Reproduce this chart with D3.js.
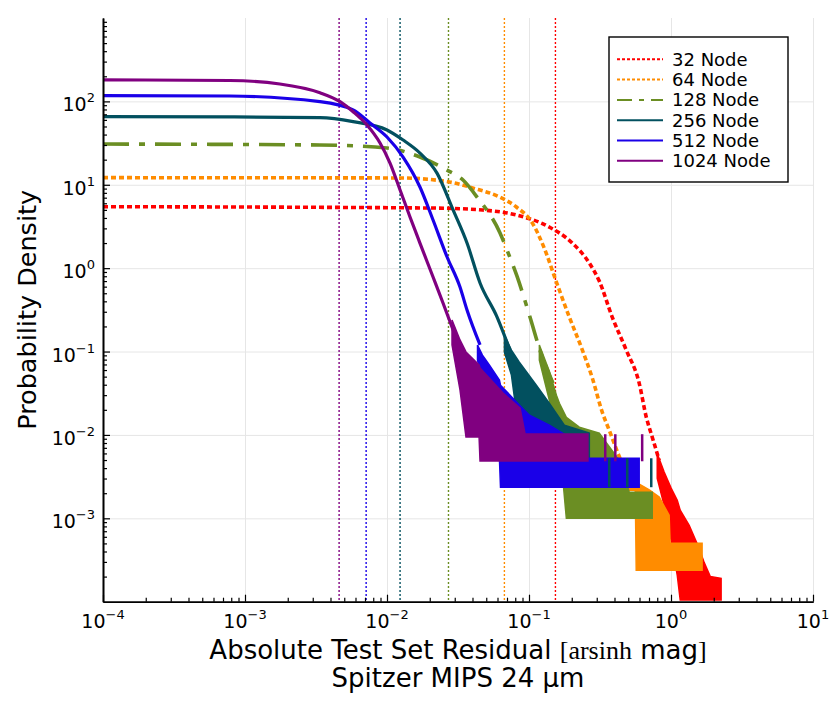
<!DOCTYPE html>
<html>
<head>
<meta charset="utf-8">
<script src="https://cdn.jsdelivr.net/npm/d3@7"></script>
<style>
body { margin: 0; background: #fff; }
text { font-family: "DejaVu Sans", sans-serif; }
</style>
</head>
<body>
<script>
// valeurs
var seriesNames = ["32 Node", "64 Node", "128 Node", "256 Node", "512 Node", "1024 Node"];
var medianResidual = [0.1535, 0.0671, 0.0271, 0.01236, 0.00713, 0.0046];

// partie lisse : [résidu, densité]
var curve32 = [[1e-4,5.46],[0.0209,5.26],[0.047,4.98],[0.0815,4.34],[0.139,3.11],[0.2018,2.0],[0.266,1.15],[0.3126,0.70],[0.3855,0.259],[0.4842,0.104],[0.597,0.0418],[0.670,0.0163],[0.738,0.0094],[0.826,0.00497]];
var curve64 = [[1e-4,12.17],[0.01227,12.07],[0.02754,10.8],[0.04,9.16],[0.0619,7.14],[0.0815,5.41],[0.1057,3.47],[0.128,1.74],[0.156,0.68],[0.1923,0.259],[0.2377,0.104],[0.2793,0.048],[0.328,0.01875],[0.3672,0.0114],[0.454,0.00457],[0.5248,0.00302]];
var curve128 = [[1e-4,30.8],[0.00337,30.0],[0.01,27.6],[0.01706,21.5],[0.0265,15.0],[0.0343,11.4],[0.043,7.14],[0.0625,2.64],[0.07,1.65],[0.0822,0.806],[0.1016,0.259],[0.1194,0.104],[0.1476,0.0418]];
var curve256 = [[1e-4,65.6],[7.8e-4,65.1],[0.00337,63.8],[0.00577,57.1],[0.01,45.4],[0.01298,34.4],[0.01706,24.0],[0.0225,13.8],[0.0292,4.99],[0.0366,2.0],[0.0452,0.664],[0.0596,0.259],[0.0734,0.104]];
var curve512 = [[1e-4,117],[7.8e-4,116],[0.00337,99.2],[0.00577,78.9],[0.00759,55.1],[0.01,37.4],[0.01298,21.5],[0.01706,9.4],[0.0211,3.78],[0.0265,1.36],[0.03266,0.594],[0.0366,0.315],[0.0452,0.12]];
var curve1024 = [[1e-4,181],[7.83e-4,178],[0.00176,161.7],[0.00337,127],[0.00467,99.2],[0.00577,75.1],[0.00723,52.1],[0.00893,31.7],[0.0105,18.2],[0.01236,8.67],[0.01452,4.11],[0.01706,2.0],[0.0211,0.783],[0.0248,0.382],[0.0301,0.158]];

// queue bruitée : [résidu, densité haute, densité basse]
var band32 = [[0.80,0.0060,0.0030],[0.895,0.0036,0.00143],[1.002,0.0023,5.44e-4],[1.107,0.00164,2.07e-4],[1.161,0.00125,1.05e-4],[1.343,8.24e-4,1.05e-4],[1.578,4.37e-4,1.05e-4],[1.711,2.96e-4,1.05e-4],[1.888,2.01e-4,1.05e-4],[2.254,1.905e-4,1.05e-4]];
var band64 = [[0.469,0.0047,0.00217],[0.56,0.0030,0.00217],[0.569,0.0027,2.38e-4],[0.703,0.0022,2.38e-4],[0.826,0.0018,2.38e-4],[0.970,0.00109,2.38e-4],[0.986,5.01e-4,2.38e-4],[1.656,5.01e-4,2.38e-4]];
var band128 = [[0.1183,0.1194,0.0789],[0.139,0.058,0.0261],[0.156,0.030,0.0105],[0.1637,0.024,0.0086],[0.1832,0.0163,0.001],[0.226,0.0124,0.001],[0.3126,0.0105,0.001],[0.4325,0.00497,0.001],[0.508,0.00205,0.001],[0.738,0.00205,0.001]];
var band256 = [[0.0671,0.1574,0.0984],[0.0752,0.104,0.0521],[0.0855,0.0746,0.0102],[0.1127,0.0395,0.00483],[0.139,0.024,0.00236],[0.1774,0.0131,0.00236],[0.266,0.0105,0.00236]];
var band512 = [[0.0434,0.1194,0.0789],[0.047,0.0906,0.0454],[0.0527,0.0687,0.0261],[0.0619,0.0454,0.00525],[0.063,0.0395,0.00236],[0.0855,0.0228,0.00236],[0.1007,0.01726,0.00236],[0.139,0.0131,0.00236],[0.1774,0.0102,0.00236],[0.2084,0.00525,0.00236],[0.597,0.00525,0.00236]];
var band1024 = [[0.0287,0.2393,0.12],[0.03266,0.1377,0.0346],[0.036,0.0989,0.00946],[0.0445,0.069,0.00946],[0.0452,0.0635,0.00488],[0.0656,0.0318,0.00488],[0.0865,0.021,0.00488],[0.0938,0.01026,0.00488],[0.26,0.01026,0.00488]];

// pics isolés : [résidu, haut, bas]
var spikes256 = [[0.3672,0.00525,0.00236],[0.492,0.00525,0.00236],[0.726,0.00525,0.00236]];
var spikes1024 = [[0.3443,0.0102,0.00483],[0.4053,0.0102,0.00483],[0.6266,0.0102,0.00483]];

var xTicks = [1e-4, 1e-3, 1e-2, 1e-1, 1, 10];
var xTickExp = ["\u22124", "\u22123", "\u22122", "\u22121", "0", "1"];
var yTicks = [1e-3, 1e-2, 1e-1, 1, 10, 100];
var yTickExp = ["\u22123", "\u22122", "\u22121", "0", "1", "2"];

var curves = [curve32, curve64, curve128, curve256, curve512, curve1024];
var bands = [band32, band64, band128, band256, band512, band1024];
var spikes = [[], [], [], spikes256, [], spikes1024];

// styles
var colors = ["#ff0000", "#ff8c00", "#6b8e23", "#02505f", "#1a00e8", "#800080"];
var dashes = ["5,3", "5,3", "26,10,6,10", null, null, null];
var legendDashes = ["3,2", "3,2", "15,7,5,7", null, null, null];

var width = 830, height = 712;
var plotLeft = 103, plotRight = 813, plotTop = 18, plotBottom = 601.7;

var svg = d3.select("body").append("svg")
    .attr("width", width)
    .attr("height", height);

var x = d3.scaleLog().domain([1e-4, 10]).range([plotLeft, plotRight]);
var y = d3.scaleLog().domain([1e-4, 1e3]).range([plotBottom, plotTop]);

svg.append("defs").append("clipPath").attr("id", "plot")
    .append("rect")
    .attr("x", plotLeft).attr("y", plotTop)
    .attr("width", plotRight - plotLeft).attr("height", plotBottom - plotTop);

// minor ticks
var minorX = [], minorY = [];
d3.range(-4, 1).forEach(function(e) {
    d3.range(2, 10).forEach(function(m) { minorX.push(m * Math.pow(10, e)); });
});
d3.range(-4, 3).forEach(function(e) {
    d3.range(2, 10).forEach(function(m) { minorY.push(m * Math.pow(10, e)); });
});

// grid
svg.append("g")
    .attr("transform", "translate(0," + plotBottom + ")")
    .call(d3.axisBottom(x).tickValues(xTicks).tickSize(-(plotBottom - plotTop)).tickFormat(""))
    .call(function(g) { g.select(".domain").remove(); g.selectAll("line").attr("stroke", "#e6e6e6"); });

svg.append("g")
    .attr("transform", "translate(" + plotLeft + ",0)")
    .call(d3.axisLeft(y).tickValues(yTicks).tickSize(-(plotRight - plotLeft)).tickFormat(""))
    .call(function(g) { g.select(".domain").remove(); g.selectAll("line").attr("stroke", "#e6e6e6"); });

var plot = svg.append("g").attr("clip-path", "url(#plot)");

// vertical reference lines
plot.selectAll(".vline")
    .data(medianResidual)
    .enter().append("line")
    .attr("class", "vline")
    .attr("x1", function(d) { return x(d); })
    .attr("x2", function(d) { return x(d); })
    .attr("y1", plotTop).attr("y2", plotBottom)
    .attr("stroke", function(d, i) { return colors[i]; })
    .attr("stroke-width", 1.4)
    .attr("stroke-dasharray", "2,2");

var line = d3.line()
    .x(function(d) { return x(d[0]); })
    .y(function(d) { return y(d[1]); })
    .curve(d3.curveMonotoneX);

var area = d3.area()
    .x(function(d) { return x(d[0]); })
    .y0(function(d) { return y(d[2]); })
    .y1(function(d) { return y(d[1]); });

curves.forEach(function(c, i) {
    var g = plot.append("g").attr("class", "series");
    g.append("path")
        .datum(bands[i])
        .attr("d", area)
        .attr("fill", colors[i])
        .attr("stroke", colors[i])
        .attr("stroke-width", 1.5);
    g.append("path")
        .datum(c)
        .attr("d", line)
        .attr("fill", "none")
        .attr("stroke", colors[i])
        .attr("stroke-width", dashes[i] ? 3.6 : 3.2)
        .attr("stroke-dasharray", dashes[i]);
});

spikes.forEach(function(s, i) {
    plot.append("g").selectAll("line")
        .data(s)
        .enter().append("line")
        .attr("x1", function(d) { return x(d[0]); })
        .attr("x2", function(d) { return x(d[0]); })
        .attr("y1", function(d) { return y(d[1]); })
        .attr("y2", function(d) { return y(d[2]); })
        .attr("stroke", colors[i])
        .attr("stroke-width", 2.5);
});

// axes
function styleAxis(g) {
    g.select(".domain").attr("stroke", "#000").attr("stroke-width", 1.6);
    g.selectAll(".tick line").attr("stroke", "#000").attr("stroke-width", 1.2);
}

svg.append("g")
    .attr("transform", "translate(0," + plotBottom + ")")
    .call(d3.axisBottom(x).tickValues(minorX).tickSize(-4).tickSizeOuter(0).tickFormat(""))
    .call(styleAxis);
svg.append("g")
    .attr("transform", "translate(0," + plotBottom + ")")
    .call(d3.axisBottom(x).tickValues(xTicks).tickSize(-7).tickSizeOuter(0).tickFormat(""))
    .call(styleAxis);
svg.append("g")
    .attr("transform", "translate(" + plotLeft + ",0)")
    .call(d3.axisLeft(y).tickValues(minorY).tickSize(-4).tickSizeOuter(0).tickFormat(""))
    .call(styleAxis);
svg.append("g")
    .attr("transform", "translate(" + plotLeft + ",0)")
    .call(d3.axisLeft(y).tickValues(yTicks).tickSize(-7).tickSizeOuter(0).tickFormat(""))
    .call(styleAxis);

// tick labels 10^n
var xLab = svg.append("g").selectAll("text")
    .data(xTicks)
    .enter().append("text")
    .attr("x", function(d) { return x(d); })
    .attr("y", plotBottom + 26)
    .attr("text-anchor", "middle")
    .style("font-size", "19px");
xLab.append("tspan").text("10");
xLab.append("tspan").attr("dy", -9).style("font-size", "13px").text(function(d, i) { return xTickExp[i]; });

var yLab = svg.append("g").selectAll("text")
    .data(yTicks)
    .enter().append("text")
    .attr("x", 95)
    .attr("y", function(d) { return y(d) + 10; })
    .attr("text-anchor", "end")
    .style("font-size", "19px");
yLab.append("tspan").text("10");
yLab.append("tspan").attr("dy", -9).style("font-size", "13px").text(function(d, i) { return yTickExp[i]; });

// axis titles
var xt = svg.append("text")
    .attr("x", (plotLeft + plotRight) / 2)
    .attr("y", 659)
    .attr("text-anchor", "middle")
    .style("font-size", "26px");
xt.append("tspan").text("Absolute Test Set Residual ");
xt.append("tspan").style("font-family", "'Liberation Serif', serif").text("[arsinh");
xt.append("tspan").text(" mag");
xt.append("tspan").style("font-family", "'Liberation Serif', serif").text("]");

svg.append("text")
    .attr("x", (plotLeft + plotRight) / 2)
    .attr("y", 687)
    .attr("text-anchor", "middle")
    .style("font-size", "26px")
    .text("Spitzer MIPS 24 \u00b5m");

svg.append("text")
    .attr("transform", "translate(36," + (plotTop + plotBottom) / 2 + ") rotate(-90)")
    .attr("text-anchor", "middle")
    .style("font-size", "25.5px")
    .text("Probability Density");

// legend
var legend = svg.append("g").attr("transform", "translate(609,37)");
legend.append("rect")
    .attr("width", 179).attr("height", 145)
    .attr("fill", "#fff")
    .attr("stroke", "#000")
    .attr("stroke-width", 1.4);

var item = legend.selectAll(".item")
    .data(seriesNames)
    .enter().append("g")
    .attr("class", "item")
    .attr("transform", function(d, i) { return "translate(0," + (22.3 + i * 20.3) + ")"; });
item.append("line")
    .attr("x1", 8).attr("x2", 54)
    .attr("stroke", function(d, i) { return colors[i]; })
    .attr("stroke-width", 2)
    .attr("stroke-dasharray", function(d, i) { return legendDashes[i]; });
item.append("text")
    .attr("x", 63)
    .attr("y", 6.5)
    .style("font-size", "18px")
    .text(function(d) { return d; });
</script>
</body>
</html>
